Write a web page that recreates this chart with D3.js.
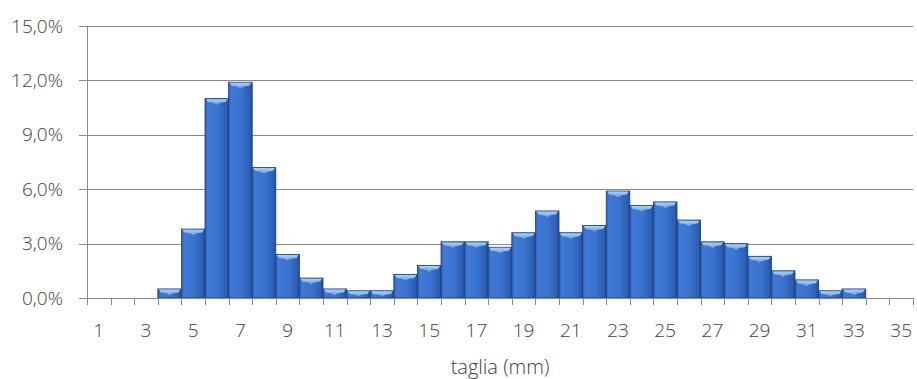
<!DOCTYPE html>
<html><head><meta charset="utf-8">
<script src="https://cdn.jsdelivr.net/npm/d3@7"></script>
<style>
html,body{margin:0;padding:0;background:#fff;}
svg text{font-family:"Open Sans","Segoe UI",sans-serif;font-weight:300;fill:#404040;}
</style></head>
<body><svg id="c" width="917" height="379"></svg>
<script>
const categories = d3.range(1, 36).map(String);
const values = [0,0,0,0.5,3.8,11.0,11.9,7.2,2.4,1.1,0.5,0.4,0.4,1.3,1.8,3.1,3.1,2.8,3.6,4.8,3.6,4.0,5.9,5.1,5.3,4.3,3.1,3.0,2.3,1.5,1.0,0.4,0.5,0,0];
const yTicks = [0,3,6,9,12,15];
const xLabels = categories.filter((d,i)=>i%2===0);
const xTitle = "taglia (mm)";

const svg = d3.select("#c");
const m = {l:87, r:4, t:26, b:81};
const W = 917, H = 379;
const x = d3.scaleBand().domain(categories).range([m.l, W-m.r]).padding(0);
const y = d3.scaleLinear().domain([0,15]).range([H-m.b, m.t]);

const defs = svg.append("defs");
const g1 = defs.append("linearGradient").attr("id","barg").attr("x1","0").attr("x2","1").attr("y1","0").attr("y2","0");
g1.append("stop").attr("offset","0").attr("stop-color","#2d60b4");
g1.append("stop").attr("offset","0.12").attr("stop-color","#3f7ad6");
g1.append("stop").attr("offset","0.55").attr("stop-color","#3a72ce");
g1.append("stop").attr("offset","0.9").attr("stop-color","#2c5eb2");
g1.append("stop").attr("offset","1").attr("stop-color","#1f4a92");
const g2 = defs.append("linearGradient").attr("id","topg").attr("x1","0").attr("x2","0").attr("y1","0").attr("y2","1");
g2.append("stop").attr("offset","0").attr("stop-color","#b0d6fb");
g2.append("stop").attr("offset","1").attr("stop-color","#5c9ae6");

// gridlines
svg.append("g").selectAll("line").data(yTicks.filter(d=>d>0)).join("line")
  .attr("x1", m.l-8).attr("x2", W-m.r).attr("y1", d=>Math.round(y(d))+0.5).attr("y2", d=>Math.round(y(d))+0.5)
  .attr("stroke","#8a8a8a").attr("stroke-width",1);

// bars
const bars = svg.append("g").selectAll("g").data(categories.map((c,i)=>({c, v:values[i]}))).join("g")
  .filter(d=>d.v>0);
bars.append("rect")
  .attr("x", d=>x(d.c)).attr("width", x.bandwidth())
  .attr("y", d=>y(d.v)).attr("height", d=>y(0)-y(d.v))
  .attr("fill","url(#barg)").attr("stroke","#1d4080").attr("stroke-width",0.8);
bars.append("path")
  .attr("d", d=>{
    const x0 = x(d.c)+1, x1 = x(d.c)+x.bandwidth()-1, t = y(d.v)+0.6;
    const h = Math.min(6.5, (y(0)-y(d.v))-1.5);
    const cx = (x0+x1)/2;
    return `M${x0},${t} L${x1},${t} L${x1-2},${t+h*0.45} Q${cx},${t+h*0.55} ${cx},${t+h} Q${cx},${t+h*0.55} ${x0+2},${t+h*0.45} Z`;
  })
  .attr("fill","url(#topg)").attr("opacity",0.95);

// axes
const ya = d3.axisLeft(y).tickValues(yTicks).tickSize(0).tickPadding(24)
  .tickFormat(d=>d.toFixed(1).replace(".",",")+"%");
const yg = svg.append("g").attr("transform",`translate(${m.l},0)`).call(ya);
yg.select(".domain").attr("stroke","#8a8a8a").attr("d",`M0.5,${y(15)}V${y(0)}`);
yg.selectAll(".tick line").remove();
yg.selectAll("text").style("font-size","19px").attr("fill","#404040");

const xg = svg.append("g").attr("transform",`translate(0,${y(0)})`);
xg.append("line").attr("x1",m.l-8).attr("x2",W-m.r).attr("y1",0.5).attr("y2",0.5).attr("stroke","#8a8a8a");
xg.selectAll("line.t").data(d3.range(categories.length+1)).join("line").attr("class","t")
  .attr("x1", i=>Math.round(m.l + i*x.step())+0.5).attr("x2", i=>Math.round(m.l + i*x.step())+0.5)
  .attr("y1",0).attr("y2",7).attr("stroke","#8a8a8a");
xg.selectAll("text").data(xLabels).join("text")
  .attr("x", d=>x(d)+x.bandwidth()/2).attr("y", 39)
  .attr("text-anchor","middle").style("font-size","19px").text(d=>d);

svg.append("text").attr("x",(m.l+W-m.r)/2).attr("y",374).attr("text-anchor","middle")
  .style("font-size","20px").text(xTitle);
</script></body></html>
